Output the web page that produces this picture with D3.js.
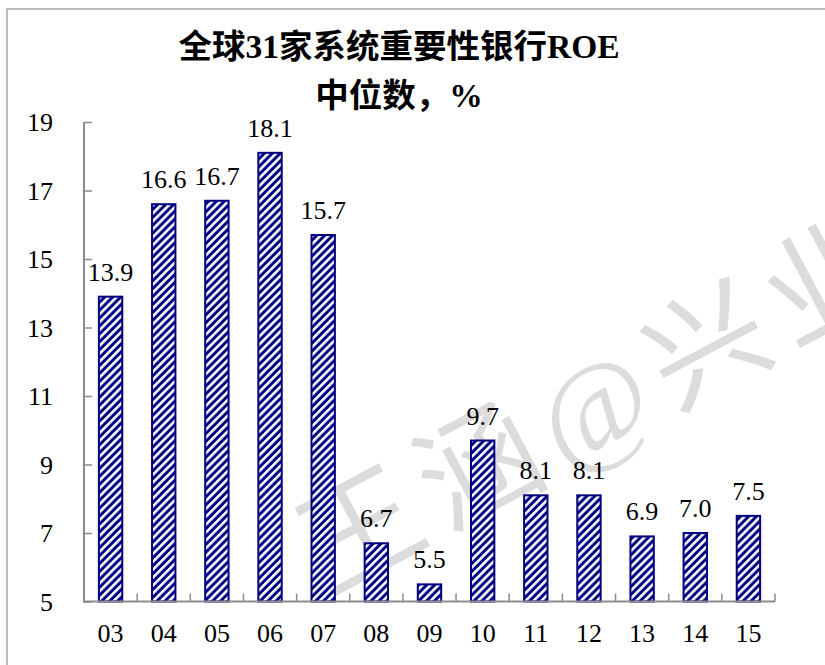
<!DOCTYPE html>
<html>
<head>
<meta charset="utf-8">
<script src="https://cdn.jsdelivr.net/npm/d3@7"></script>
<style>
  body { margin: 0; background: #fff; }
  text { font-family: "Liberation Serif", "Noto Sans CJK SC", serif; }
</style>
</head>
<body>
<div id="chart"></div>
<script>
// data
var years = ['03', '04', '05', '06', '07', '08', '09', '10', '11', '12', '13', '14', '15'];
var roe = [13.9, 16.6, 16.7, 18.1, 15.7, 6.7, 5.5, 9.7, 8.1, 8.1, 6.9, 7.0, 7.5];
var yTicks = [5, 7, 9, 11, 13, 15, 17, 19];
var titleLines = ['全球31家系统重要性银行ROE', '中位数，%'];
var watermark = '王涵@兴业';

var width = 825, height = 665;
var plotLeft = 84, plotRight = 775, plotTop = 122, plotBottom = 601.5;

var svg = d3.select('#chart').append('svg')
  .attr('width', width)
  .attr('height', height);

// hatch pattern for bars
var defs = svg.append('defs');
var pat = defs.append('pattern')
  .attr('id', 'hatch')
  .attr('patternUnits', 'userSpaceOnUse')
  .attr('width', 5.6)
  .attr('height', 5.6)
  .attr('patternTransform', 'rotate(45)');
pat.append('rect').attr('width', 5.6).attr('height', 5.6).attr('fill', '#000080');
pat.append('rect').attr('width', 2.6).attr('height', 5.6).attr('fill', '#fff');

// outer frame (only left and top visible)
svg.append('rect')
  .attr('x', 7).attr('y', 9)
  .attr('width', 840).attr('height', 700)
  .attr('fill', 'none')
  .attr('stroke', '#bdbdbd')
  .attr('stroke-width', 2);

// watermark
svg.append('text')
  .attr('transform', 'translate(600,405) rotate(-28)')
  .attr('text-anchor', 'middle')
  .attr('dominant-baseline', 'central')
  .attr('font-size', 120)
  .attr('letter-spacing', 14)
  .attr('fill', '#dcdcdc')
  .text(watermark);

var x = d3.scaleBand()
  .domain(years)
  .range([plotLeft, plotRight])
  .paddingInner(0.56)
  .paddingOuter(0.28);

var y = d3.scaleLinear()
  .domain([5, 19])
  .range([plotBottom, plotTop]);

// bars
svg.selectAll('.bar')
  .data(roe)
  .enter()
  .append('rect')
    .attr('class', 'bar')
    .attr('x', function(d, i) { return x(years[i]); })
    .attr('y', function(d) { return y(d); })
    .attr('width', x.bandwidth())
    .attr('height', function(d) { return y(5) - y(d); })
    .attr('fill', 'url(#hatch)')
    .attr('stroke', '#000080')
    .attr('stroke-width', 2);

// value labels
svg.selectAll('.lbl')
  .data(roe)
  .enter()
  .append('text')
    .attr('class', 'lbl')
    .attr('x', function(d, i) { return x(years[i]) + x.bandwidth() / 2; })
    .attr('y', function(d) { return y(d) - 16; })
    .attr('text-anchor', 'middle')
    .attr('font-size', 26)
    .attr('fill', '#000')
    .text(function(d) { return d.toFixed(1); });

// axes
var axisColor = '#8c8c8c';
var yAxis = d3.axisRight(y).tickValues(yTicks).tickSize(8).tickFormat('');
var gy = svg.append('g').attr('transform', 'translate(' + plotLeft + ',0)').call(yAxis);
gy.select('.domain').remove();
gy.selectAll('line').attr('stroke', axisColor).attr('stroke-width', 1.5);
svg.append('line')
  .attr('x1', plotLeft).attr('x2', plotLeft)
  .attr('y1', plotTop).attr('y2', plotBottom)
  .attr('stroke', axisColor).attr('stroke-width', 2);

svg.selectAll('.ylab')
  .data(yTicks)
  .enter()
  .append('text')
    .attr('class', 'ylab')
    .attr('x', 53)
    .attr('y', function(d) { return y(d); })
    .attr('dy', '0.35em')
    .attr('text-anchor', 'end')
    .attr('font-size', 26)
    .text(function(d) { return d; });

// x axis: ticks on category boundaries, pointing up
var bounds = years.map(function(d, i) { return plotLeft + (plotRight - plotLeft) * (i + 1) / years.length; });
svg.selectAll('.xtick')
  .data(bounds)
  .enter()
  .append('line')
    .attr('class', 'xtick')
    .attr('x1', function(d) { return d; })
    .attr('x2', function(d) { return d; })
    .attr('y1', plotBottom)
    .attr('y2', plotBottom - 8)
    .attr('stroke', axisColor)
    .attr('stroke-width', 1.5);
svg.append('line')
  .attr('x1', plotLeft - 1).attr('x2', plotRight)
  .attr('y1', plotBottom).attr('y2', plotBottom)
  .attr('stroke', axisColor).attr('stroke-width', 2);

svg.selectAll('.xlab')
  .data(years)
  .enter()
  .append('text')
    .attr('class', 'xlab')
    .attr('x', function(d) { return x(d) + x.bandwidth() / 2; })
    .attr('y', 642)
    .attr('text-anchor', 'middle')
    .attr('font-size', 26)
    .text(function(d) { return d; });

// title
svg.selectAll('.title')
  .data(titleLines)
  .enter()
  .append('text')
    .attr('class', 'title')
    .attr('x', 399)
    .attr('y', function(d, i) { return 58 + i * 49; })
    .attr('text-anchor', 'middle')
    .attr('font-size', 33.5)
    .attr('font-weight', 'bold')
    .text(function(d) { return d; });
</script>
</body>
</html>
